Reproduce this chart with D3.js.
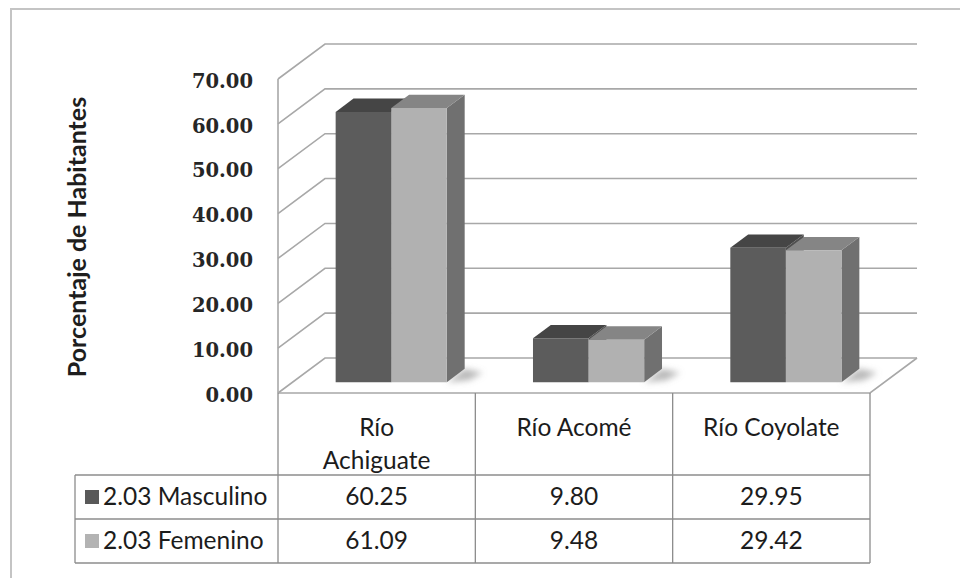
<!DOCTYPE html>
<html>
<head>
<meta charset="utf-8">
<script src="https://cdn.jsdelivr.net/npm/d3@7"></script>
<style>
  html, body { margin: 0; padding: 0; background: #fff; }
  svg { display: block; }
</style>
</head>
<body>
<svg id="chart" width="960" height="578"></svg>
<script>
// Categories (rivers), series and axis ticks
const categories = ["Río\nAchiguate", "Río Acomé", "Río Coyolate"];
const seriesNames = ["2.03 Masculino", "2.03 Femenino"];
const masculino = [60.25, 9.80, 29.95];
const femenino = [61.09, 9.48, 29.42];
const yTicks = [0, 10, 20, 30, 40, 50, 60, 70];

const seriesValues = [masculino, femenino];
const seriesColors = [
  { front: "#5c5c5c", top: "#454545", side: "#4f4f4f", key: "#595959" },
  { front: "#b1b1b1", top: "#858585", side: "#707070", key: "#b3b3b3" }
];

const svg = d3.select("#chart");

// 3D frame geometry: front plane plus a depth offset
const plotLeft = 278, plotRight = 870, floorY = 393, topY = 79;
const depthX = 47, depthY = -35;
const barZ0 = 0.31, barZ1 = 0.69;

const y = d3.scaleLinear().domain([0, 70]).range([floorY, topY]);
const x = d3.scaleBand().domain(categories).range([plotLeft, plotRight]).padding(0);
const xs = d3.scaleBand().domain(seriesNames).range([0, x.bandwidth()])
  .paddingInner(0).paddingOuter(0.775);

const proj = (px, v, z) => [px + z * depthX, y(v) + z * depthY];
const poly = pts => "M" + pts.map(p => p.join(",")).join("L") + "Z";

// Outer chart border
svg.append("rect")
  .attr("x", 11).attr("y", 9).attr("width", 1200).attr("height", 1200)
  .attr("fill", "none").attr("stroke", "#c4c4c4").attr("stroke-width", 2);

const grid = svg.append("g").attr("stroke", "#a8a8a8").attr("stroke-width", 1.6).attr("fill", "none");

// Back wall and side wall gridlines
yTicks.forEach(v => {
  const a = proj(plotLeft, v, 0), b = proj(plotLeft, v, 1), c = proj(plotRight, v, 1);
  grid.append("path").attr("d", `M${a[0]},${a[1]}L${b[0]},${b[1]}L${c[0]},${c[1]}`);
});
// Side wall front edge
grid.append("line")
  .attr("x1", plotLeft).attr("x2", plotLeft).attr("y1", y(70)).attr("y2", y(0));
// Floor outline
{
  const f0 = proj(plotLeft, 0, 0), f1 = proj(plotRight, 0, 0), f2 = proj(plotRight, 0, 1);
  grid.append("path").attr("d", `M${f0[0]},${f0[1]}L${f1[0]},${f1[1]}L${f2[0]},${f2[1]}`);
}

// Soft shadows cast on the floor
const defs = svg.append("defs");
defs.append("filter").attr("id", "shadowBlur")
  .attr("x", "-50%").attr("y", "-50%").attr("width", "200%").attr("height", "200%")
  .append("feGaussianBlur").attr("stdDeviation", 3);

const shadows = svg.append("g").attr("filter", "url(#shadowBlur)");
categories.forEach(cat => {
  const x1 = x(cat) + xs(seriesNames[1]) + xs.bandwidth();
  const a = proj(x1, 0, barZ0), b = proj(x1, 0, barZ1);
  shadows.append("path")
    .attr("d", poly([a, b, [b[0] + 18, b[1] + 4], [a[0] + 22, a[1] - 2]]))
    .attr("fill", "#8a8a8a").attr("opacity", 0.6);
});

// Bars as prisms: side, top, front faces
const bars = svg.append("g");
categories.forEach((cat, ci) => {
  seriesNames.forEach((s, si) => {
    const v = seriesValues[si][ci];
    const x0 = x(cat) + xs(s), x1 = x0 + xs.bandwidth();
    const col = seriesColors[si];
    const side = [proj(x1, 0, barZ0), proj(x1, 0, barZ1), proj(x1, v, barZ1), proj(x1, v, barZ0)];
    const top = [proj(x0, v, barZ0), proj(x0, v, barZ1), proj(x1, v, barZ1), proj(x1, v, barZ0)];
    const front = [proj(x0, 0, barZ0), proj(x1, 0, barZ0), proj(x1, v, barZ0), proj(x0, v, barZ0)];
    bars.append("path").attr("d", poly(side)).attr("fill", col.side);
    bars.append("path").attr("d", poly(top)).attr("fill", col.top);
    bars.append("path").attr("d", poly(front)).attr("fill", col.front);
  });
});

// Value axis labels
const axis = d3.axisLeft(y).tickValues(yTicks).tickFormat(d3.format(".2f"))
  .tickSize(0).tickPadding(25);
const axisG = svg.append("g").attr("transform", `translate(${plotLeft},2)`).call(axis);
axisG.select(".domain").remove();
axisG.selectAll("text")
  .attr("font-family", "'DejaVu Serif', serif").attr("font-weight", "bold")
  .attr("font-size", 19.5).attr("fill", "#262626");

// Axis title
svg.append("text")
  .attr("transform", "translate(86,237) rotate(-90)")
  .attr("text-anchor", "middle")
  .attr("font-family", "Lato, sans-serif").attr("font-weight", "bold")
  .attr("font-size", 25).attr("fill", "#1e1e1e")
  .text("Porcentaje de Habitantes");

// Data table under the chart
const tableLeft = 75, headerBottom = 475, rowH = 44;
const rowYs = [headerBottom, headerBottom + rowH, headerBottom + 2 * rowH];
const tbl = svg.append("g").attr("stroke", "#8c8c8c").attr("stroke-width", 1.3);
rowYs.forEach(ry => tbl.append("line").attr("x1", tableLeft).attr("x2", plotRight).attr("y1", ry).attr("y2", ry));
tbl.append("line").attr("x1", tableLeft).attr("x2", tableLeft).attr("y1", headerBottom).attr("y2", rowYs[2]);
[...categories.map(c => x(c)), plotRight].forEach(cx =>
  tbl.append("line").attr("x1", cx).attr("x2", cx).attr("y1", floorY).attr("y2", rowYs[2]));

const textFont = "Lato, sans-serif";
const textSize = 24.5;
// Category headers
categories.forEach(cat => {
  const lines = cat.split("\n");
  const cx = x(cat) + x.bandwidth() / 2;
  const t = svg.append("text").attr("text-anchor", "middle")
    .attr("font-family", textFont).attr("font-size", textSize).attr("fill", "#1c1c1c");
  lines.forEach((ln, i) => t.append("tspan").attr("x", cx).attr("y", 436 + i * 33).text(ln));
});

// Series rows: legend key, name and values
seriesNames.forEach((s, si) => {
  const cy = rowYs[si] + rowH / 2;
  svg.append("rect").attr("x", 85).attr("y", cy - 7).attr("width", 14).attr("height", 14)
    .attr("fill", seriesColors[si].key);
  svg.append("text").attr("x", 103).attr("y", cy + 8)
    .attr("font-family", textFont).attr("font-size", textSize).attr("fill", "#1c1c1c").text(s);
  categories.forEach((cat, ci) => {
    svg.append("text").attr("x", x(cat) + x.bandwidth() / 2).attr("y", cy + 8)
      .attr("text-anchor", "middle")
      .attr("font-family", textFont).attr("font-size", textSize).attr("fill", "#1c1c1c")
      .text(d3.format(".2f")(seriesValues[si][ci]));
  });
});
</script>
</body>
</html>
